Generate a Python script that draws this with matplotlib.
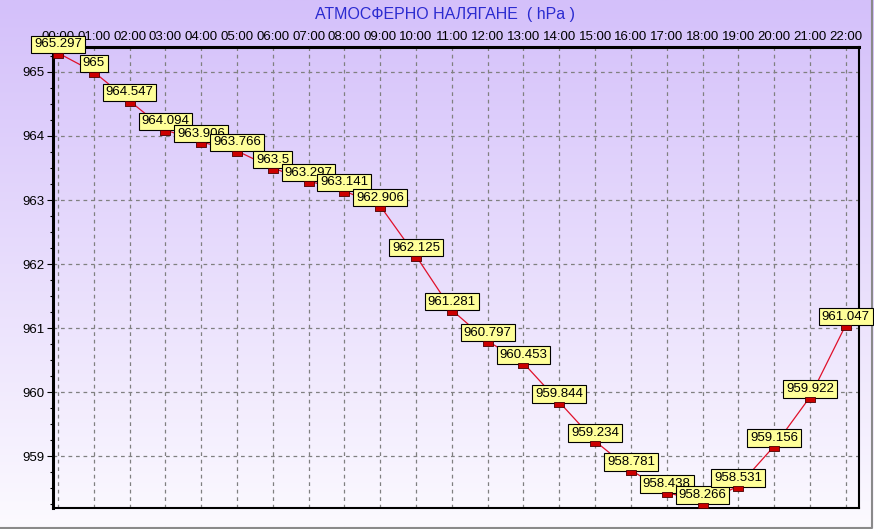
import matplotlib
matplotlib.use("Agg")
import matplotlib.pyplot as plt
import numpy as np

hours = ["00:00", "01:00", "02:00", "03:00", "04:00", "05:00", "06:00", "07:00",
         "08:00", "09:00", "10:00", "11:00", "12:00", "13:00", "14:00", "15:00",
         "16:00", "17:00", "18:00", "19:00", "20:00", "21:00", "22:00"]
pressure = [965.297, 965, 964.547, 964.094, 963.906, 963.766, 963.5, 963.297,
            963.141, 962.906, 962.125, 961.281, 960.797, 960.453, 959.844, 959.234,
            958.781, 958.438, 958.266, 958.531, 959.156, 959.922, 961.047]
title = "АТМОСФЕРНО НАЛЯГАНЕ  ( hPa )"

W, H = 874, 529
fig = plt.figure(figsize=(W / 100, H / 100), dpi=100)

# lavender gradient background
bg = fig.add_axes([0, 0, 1, 1], zorder=-10)
top = np.array([212, 192, 250]) / 255
bot = np.array([252, 250, 255]) / 255
t = np.linspace(0, 1, 256)[:, None]
grad = top * (1 - t) + bot * t
bg.imshow(grad[:, None, :].repeat(2, axis=1), aspect="auto", extent=[0, 1, 0, 1])
bg.set_xlim(0, 1)
bg.set_ylim(0, 1)
bg.axis("off")
# thin gray border at right / bottom
bg.plot([0, 1 - 2 / W, 1 - 2 / W], [1.5 / H, 1.5 / H, 1], color="#8a8a8a", lw=1.5)

ax = fig.add_axes([53 / W, 1 - 508 / H, (859 - 53) / W, (508 - 47) / H])
ax.patch.set_alpha(0)

x = np.arange(len(hours))
# small flat box hanging just below the point
rect = [(-1, -1), (1, -1), (1, 0), (-1, 0), (-1, -1)]
ax.plot(x, pressure, color="#e0102a", lw=0.9, zorder=3)
ax.plot(x, pressure, ls="none", marker=rect, ms=7.5, mfc="#cc0000", mec="#4a0000",
        mew=0.6, zorder=6)

for xi, v in zip(x, pressure):
    ax.annotate(f"{v:g}", (xi, v), xytext=(0, 1.8), textcoords="offset points",
                ha="center", va="bottom", fontsize=9.5, family="Liberation Sans",
                bbox=dict(boxstyle="square,pad=0.22", fc="#ffff99", ec="black", lw=0.8),
                zorder=5, annotation_clip=False)

ax.set_xlim(-0.14, 22.37)
ax.set_ylim(958.19, 965.39)
ax.set_xticks(x)
ax.set_xticklabels(hours)
ax.xaxis.tick_top()
ax.set_yticks([959, 960, 961, 962, 963, 964, 965])
ax.set_yticks(np.arange(958.25, 965.3, 0.25), minor=True)
ax.tick_params(axis="x", length=0, pad=3, labelsize=9.5)
ax.tick_params(axis="y", which="major", length=4, width=0.8, pad=2, labelsize=9.5)
ax.tick_params(axis="y", which="minor", length=2, width=0.8)
for lbl in ax.get_xticklabels() + ax.get_yticklabels():
    lbl.set_family("Liberation Sans")

ax.grid(True, color="#808080", ls=(0, (3, 3)), lw=0.9)
ax.spines["left"].set_linewidth(2.2)
ax.spines["top"].set_linewidth(2.2)
ax.spines["right"].set_linewidth(1.5)
ax.spines["bottom"].set_linewidth(1.5)

fig.text(445 / W, 1 - 14 / H, title, ha="center", va="center", fontsize=11.5,
         color="#2b2bd0", family="Liberation Sans")

fig.savefig("out.png", dpi=100)
